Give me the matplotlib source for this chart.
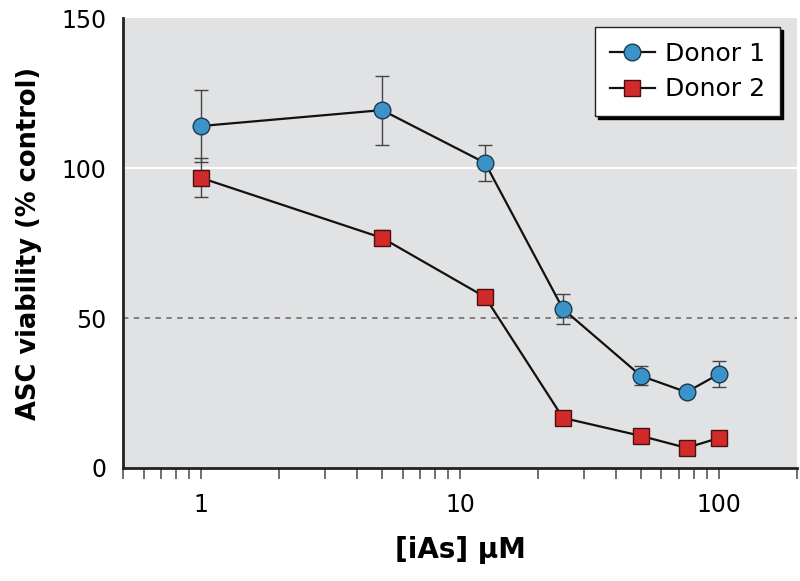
import matplotlib
matplotlib.use("Agg")
import matplotlib.pyplot as plt
from matplotlib.ticker import FixedLocator, LogLocator, NullFormatter

plt.rcParams["font.family"] = ["DejaVu Sans Condensed", "DejaVu Sans"]

# iAs concentration (µM)
conc = [1, 5, 12.5, 25, 50, 75, 100]
donor1 = [114, 119.3, 101.7, 53, 30.7, 25.3, 31.3]
donor1_err = [12, 11.5, 6, 5, 3.2, 0.8, 4.2]
donor2 = [96.7, 76.7, 57, 16.7, 10.7, 6.7, 10]
donor2_err = [6.5, 2.5, 1, 2.2, 1, 1, 1]

BG = "#e1e2e4"
BLUE = "#3b93c9"
RED = "#d12a2a"

fig = plt.figure(figsize=(8, 5.81), dpi=100)
ax = fig.add_axes([0.154, 0.1945, 0.842, 0.7745])
ax.set_facecolor(BG)

ax.axhline(100, color="white", lw=1.5, zorder=1)
ax.axhline(50, color="#777777", lw=1.3, ls=(0, (3, 3)), zorder=1)

ax.errorbar(conc, donor1, yerr=donor1_err, fmt="none", ecolor="#444444",
            elinewidth=1, capsize=5, capthick=1, zorder=2)
ax.errorbar(conc, donor2, yerr=donor2_err, fmt="none", ecolor="#444444",
            elinewidth=1, capsize=5, capthick=1, zorder=2)
ax.plot(conc, donor1, "-o", color="#111111", lw=1.6, ms=12,
        mfc=BLUE, mec="#1a3a50", mew=1, label="Donor 1", zorder=3)
ax.plot(conc, donor2, "-s", color="#111111", lw=1.6, ms=11.5,
        mfc=RED, mec="#4a1010", mew=1, label="Donor 2", zorder=3)

ax.set_xscale("log")
ax.set_xlim(0.5, 200)
ax.set_ylim(0, 150)
ax.xaxis.set_major_locator(FixedLocator([1, 10, 100]))
ax.set_xticklabels(["1", "10", "100"])
ax.xaxis.set_minor_locator(LogLocator(base=10, subs=range(2, 10), numticks=20))
ax.xaxis.set_minor_formatter(NullFormatter())
ax.set_yticks([0, 50, 100, 150])

ax.tick_params(axis="x", which="both", direction="out", length=8, width=1.2,
               color="#555555", labelsize=17, pad=10)
ax.tick_params(axis="y", length=0, labelsize=17, pad=12)

for s in ("top", "right"):
    ax.spines[s].set_visible(False)
for s in ("left", "bottom"):
    ax.spines[s].set_linewidth(2)
    ax.spines[s].set_color("#222222")

ax.set_ylabel("ASC viability (% control)", fontsize=18.5, fontweight="bold", labelpad=14)
ax.set_xlabel("[iAs] µM", fontsize=20, fontweight="bold", labelpad=14)

leg = ax.legend(loc="upper right", bbox_to_anchor=(0.975, 0.98), borderaxespad=0,
                fontsize=18, frameon=True, fancybox=False, edgecolor="#222222",
                shadow={"color": "black", "alpha": 1}, handlelength=1.8,
                borderpad=0.6, labelspacing=0.45, handletextpad=0.4)
leg.get_frame().set_linewidth(1)
leg.get_frame().set_facecolor("white")

fig.savefig("out.png", dpi=100)
